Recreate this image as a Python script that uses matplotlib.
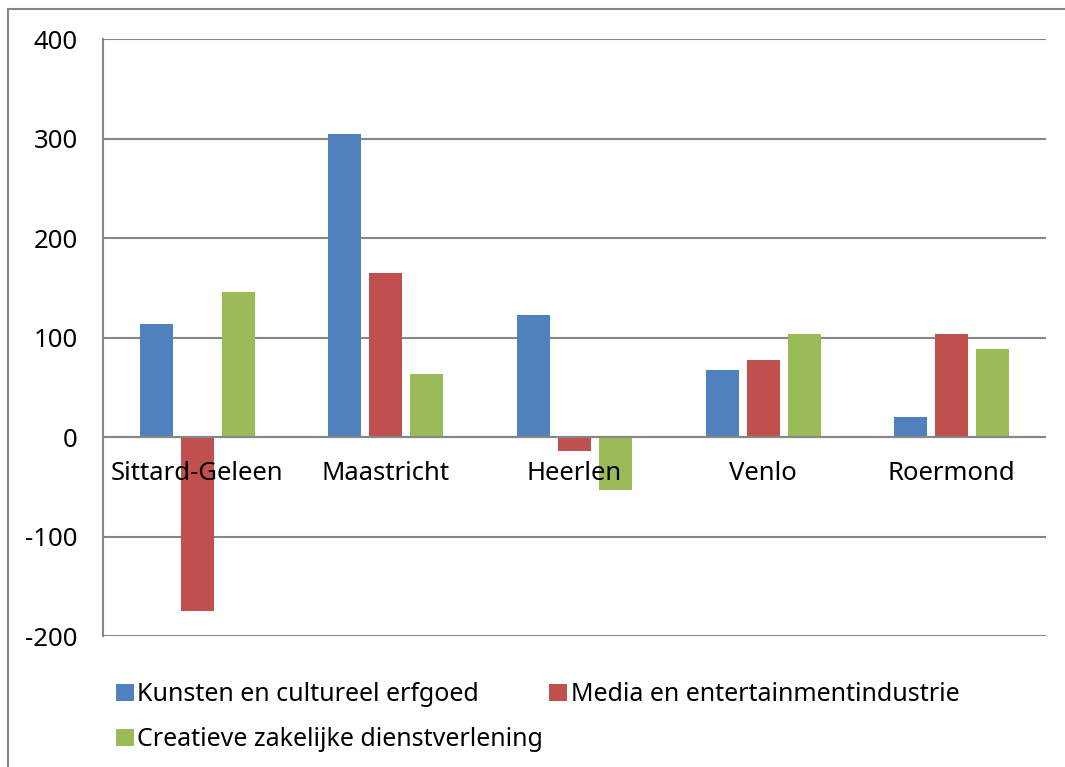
import matplotlib.pyplot as plt
import numpy as np
from matplotlib.patches import Rectangle

plt.rcParams['font.family'] = ['Noto Sans', 'DejaVu Sans']

steden = ['Sittard-Geleen', 'Maastricht', 'Heerlen', 'Venlo', 'Roermond']
kunsten = [114, 305, 123, 67, 20]
media = [-175, 165, -14, 77, 104]
creatief = [146, 63, -53, 104, 88]
reeksen = ['Kunsten en cultureel erfgoed', 'Media en entertainmentindustrie',
           'Creatieve zakelijke dienstverlening']
kleuren = ['#4F81BD', '#C0504D', '#9BBB59']
yticks = [-200, -100, 0, 100, 200, 300, 400]

fig = plt.figure(figsize=(10.65, 7.67), dpi=100)
ax = fig.add_axes([103/1065, 1 - 636/767, 943/1065, (636 - 39)/767])

x = np.arange(len(steden))
w = 0.175
stap = 0.217
bars = []
for i, (vals, col) in enumerate(zip([kunsten, media, creatief], kleuren)):
    b = ax.bar(x + (i - 1)*stap, vals, w, color=col, zorder=3, label=reeksen[i])
    bars.append(b)

ax.set_xlim(-0.5, len(steden) - 0.5)
ax.set_ylim(-200, 400)
ax.set_yticks(yticks)
ax.set_yticklabels([str(v) for v in yticks], fontsize=18.5)
ax.tick_params(axis='y', length=0, pad=18)
ax.set_xticks([])
ax.grid(axis='y', color='#868686', lw=1.5, zorder=1)
for s in ['top', 'right', 'bottom']:
    ax.spines[s].set_visible(False)
ax.spines['left'].set_color('#868686')
ax.spines['left'].set_linewidth(1.5)
ax.axhline(0, color='#868686', lw=1.5, zorder=4)

for i, naam in enumerate(steden):
    ax.annotate(naam, (i, 0), xytext=(0, -17), textcoords='offset points',
                ha='center', va='top', fontsize=18.5, zorder=5)

# volgorde zodat rij 1 = kunsten + media, rij 2 = creatief
h = [bars[0], bars[2], bars[1]]
l = [reeksen[0], reeksen[2], reeksen[1]]
fig.legend(h, l, ncol=2, loc='upper left', bbox_to_anchor=(106/1065, 1 - 672/767),
           frameon=False, fontsize=18, handlelength=0.7, handleheight=0.7,
           handletextpad=0.15, columnspacing=0.25, labelspacing=0.8, borderaxespad=0)

fig.patches.append(Rectangle((8/1065, -0.5), 2, 0.5 + (767 - 9)/767,
                             transform=fig.transFigure, fill=False,
                             edgecolor='#868686', lw=1.5))

fig.savefig('out.png', dpi=100)
